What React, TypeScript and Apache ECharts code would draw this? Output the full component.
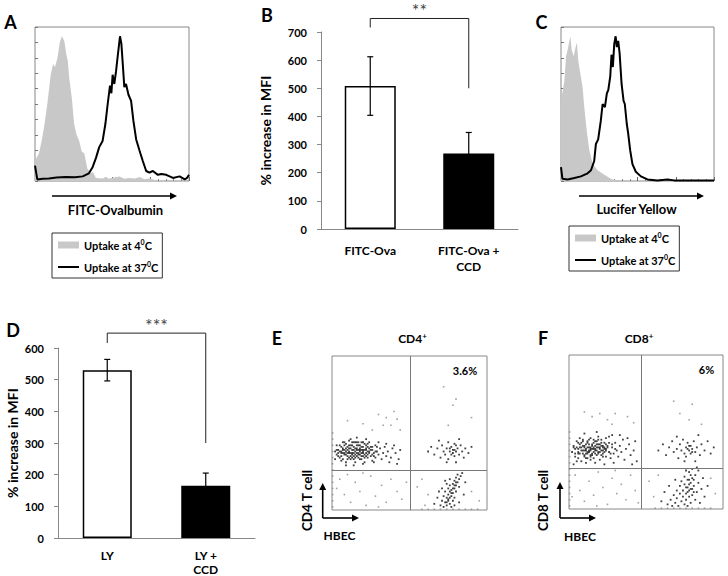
import React, { useEffect, useRef } from "react";
import * as echarts from "echarts";

const FONT = 'Lato, "Liberation Sans", Arial, sans-serif';
const COLD = "Uptake at 4⁰C";
const HOT = "Uptake at 37⁰C";

// Panel A histograms (channel 0-100, % of max)
const aCold = [[0,13],[1.5,16],[2.6,18],[4.3,26],[5.9,35],[8,50],[10.2,69],[11.7,76],[13,74],[14.6,80],[16.1,90],[17.4,94],[19,91],[20.4,82],[21.3,78],[22.2,67],[23.9,54],[25.4,37],[27,30],[28.7,26],[30.4,19],[32,18],[33,13],[34,8],[36.3,5],[37.5,6],[39.6,2],[44,1.7],[46,2.8],[48,1.5],[51,2.2],[55,3],[58,1.4],[61,2],[65,1.6],[68,2.6],[71,1.2],[74,1.7],[77,1],[79,0],[100,0]];
const aHot = [[0,10],[1.5,1],[5,1.4],[9,1.7],[14,2.2],[20,2.6],[26,2.4],[31,3],[33,4],[35,5],[37.4,9],[39.6,15],[41.7,22],[43.9,26],[45.7,37],[47.2,50],[48.7,62],[49.6,57],[50.4,69],[51.5,63],[52.6,71],[53.7,81],[55.2,94],[56.1,89],[57,76],[58,61],[59.1,63],[60.7,56],[62.4,52],[63.9,39],[65.7,27],[67.8,20],[70,13],[72.2,6.5],[74.3,5.4],[76.5,6.5],[79.8,4],[82,4.5],[85.2,4],[89.6,2],[93.9,3],[97.2,1],[98.7,2],[100,4]];

// Panel C histograms
const cCold = [[0,52],[2.2,65],[3.3,81],[4.3,85],[6.1,94],[7,85],[8.3,81],[9.1,85],[10.4,90],[11.3,78],[12.6,70],[14.1,61],[15.2,48],[17,31],[18.5,20],[20.7,11],[23.9,7],[28.3,4],[32.6,1.5],[35.9,0.4],[37,0],[100,0]];
const cHot = [[0,9],[0.9,1.5],[4.3,1],[8.7,2],[13,3],[17.4,5],[19.6,7],[21.7,13],[22.8,24],[24.3,27],[26,39],[27.2,50],[28.7,48],[30,57],[30.9,59],[32.2,68],[33,82],[33.9,74],[34.8,89],[35.7,94],[36.5,87],[37.4,91],[38.3,83],[39.6,63],[40.9,52],[41.7,50],[43,37],[43.9,31],[45.2,20],[46.7,11],[48.9,6],[52.2,3],[56.5,1],[63,0.4],[69.6,1],[73.9,0.4],[100,0.4]];

// Panel B bars
const bCats = ["FITC-Ova", "FITC-Ova +\nCCD"];
const bValues = [508, 268];
const bErrors = [104, 75];
const bFills = ["#ffffff", "#000000"];
const bBracket = [0, 748, 1, 716, 500];

// Panel D bars
const dCats = ["LY", "LY +\nCCD"];
const dValues = [530, 165];
const dErrors = [34, 40];
const dFills = ["#ffffff", "#000000"];
const dBracket = [0, 647, 1, 616, 300];

// Panel E dot plot (HBEC vs CD4, 0-100 units)
const eGate = [50.2, 25.5];
const eTcells = [[3,36],[4,39],[5,34],[5,42],[6,37],[7,40],[7,33],[8,36],[8,44],[9,38],[9,31],[10,41],[10,35],[11,38],[11,45],[12,33],[12,40],[13,37],[13,42],[14,35],[14,39],[15,31],[15,44],[16,37],[16,40],[17,34],[17,42],[18,38],[18,36],[19,41],[19,33],[20,39],[20,44],[21,36],[21,31],[22,40],[22,37],[23,34],[23,43],[24,38],[25,35],[25,41],[26,32],[26,39],[27,37],[28,42],[28,34],[29,38],[30,36],[31,40],[32,33],[33,37],[34,41],[35,35],[36,38],[38,34],[39,40],[41,37],[43,33],[44,39],[6,38],[9,40],[12,37],[14,41],[15,38],[16,35],[17,39],[18,40],[19,37],[20,35],[21,39],[22,42],[13,39],[10,37],[11,42],[15,36],[17,37],[19,39],[8,39],[7,37],[4,37],[2,38],[2,33],[3,42],[24,40],[26,36],[23,38],[20,37],[18,33],[14,44],[12,46],[16,47],[22,46],[9,29],[14,29],[20,30],[27,31],[30,44],[35,43],[40,42],[42,30],[37,31],[5,38],[6,41],[6,35],[7,39],[8,37],[8,42],[9,36],[9,43],[10,39],[10,33],[11,37],[11,40],[12,35],[12,42],[13,36],[13,44],[14,37],[14,33],[15,40],[15,34],[16,39],[16,42],[17,36],[17,44],[18,39],[18,42],[19,35],[19,44],[20,41],[20,38],[21,34],[21,43],[22,39],[22,35],[23,41],[23,36],[24,37],[25,39],[26,41],[27,35],[11,34],[13,34],[16,44],[24,44],[7,44],[4,35],[3,39],[6,32],[28,38],[29,41]];
const eDoublets = [[62,38],[64,41],[66,36],[68,40],[70,34],[71,42],[72,38],[73,36],[74,40],[75,44],[75,33],[76,38],[77,41],[77,36],[78,39],[79,43],[79,35],[80,38],[81,40],[82,36],[83,42],[84,38],[85,34],[86,40],[88,37],[90,41],[74,31],[80,31],[69,45],[82,46],[76,40],[78,37],[80,42],[79,39]];
const eHbec = [[70,3],[71,6],[72,2],[72,9],[73,5],[73,12],[74,8],[74,3],[75,10],[75,14],[75,6],[76,12],[76,4],[76,16],[77,9],[77,13],[77,2],[78,11],[78,17],[78,6],[79,14],[79,19],[79,8],[80,16],[80,21],[80,12],[81,18],[81,23],[82,15],[82,20],[83,22],[84,24],[74,17],[71,14],[68,8],[66,4],[86,18],[85,10],[82,5],[79,3],[76,20],[73,19],[69,12],[76,8],[77,11],[78,14],[79,16],[80,18],[75,7],[74,5]];
const eSparse = [[30,62],[35,60],[40,64],[42,59],[33,55],[26,52],[38,55],[10,58],[20,56],[44,52],[78,68],[80,72],[75,55],[90,60],[72,80],[5,20],[8,10],[12,5],[15,18],[18,12],[22,3],[25,22],[28,9],[32,16],[35,5],[38,20],[42,12],[45,7],[3,14],[20,24],[30,2],[48,18],[10,23],[55,15],[58,20],[62,10],[90,12],[95,6],[60,3],[58,0.5],[62,0.5],[66,0.5],[70,0.5],[74,0.5],[78,0.5],[82,0.5],[86,0.5],[90,0.5],[94,0.5],[0.4,2],[0.4,6],[0.4,10],[0.4,14],[0.4,18],[0.4,22],[0.4,26],[0.4,30],[0.4,34],[0.4,38],[0.4,42],[0.4,46],[0.4,50]];

// Panel F dot plot (HBEC vs CD8)
const fGate = [47.2, 26.5];
const fTcells = [[2,37],[3,41],[4,34],[5,44],[6,39],[7,36],[7,42],[8,31],[9,38],[9,45],[10,35],[10,41],[11,39],[12,33],[12,43],[13,37],[13,40],[14,35],[14,46],[15,39],[15,42],[16,37],[16,33],[17,41],[17,38],[18,44],[18,35],[19,40],[19,37],[20,42],[20,32],[21,38],[21,45],[22,36],[22,40],[23,43],[24,34],[24,39],[25,41],[26,37],[26,47],[27,33],[28,40],[29,36],[30,43],[31,38],[32,34],[33,41],[34,37],[35,45],[36,32],[37,39],[39,42],[40,35],[42,38],[43,44],[44,31],[8,40],[10,38],[11,36],[12,40],[13,42],[14,38],[15,36],[16,40],[17,39],[18,38],[19,42],[20,39],[21,41],[22,38],[23,39],[24,42],[14,40],[16,43],[12,37],[9,41],[6,36],[4,39],[5,31],[3,29],[11,30],[17,30],[23,29],[29,30],[28,48],[18,50],[10,49],[33,48],[38,46],[41,29],[5,40],[6,43],[6,37],[7,40],[8,38],[8,43],[9,36],[9,44],[10,40],[10,34],[11,38],[11,42],[12,36],[12,44],[13,38],[13,45],[14,39],[14,34],[15,41],[15,35],[16,39],[16,45],[17,36],[17,44],[18,40],[18,42],[19,36],[19,45],[20,40],[20,37],[21,35],[21,43],[22,41],[22,34],[23,40],[23,37],[24,38],[25,40],[26,43],[27,36],[11,33],[14,32],[19,47],[24,46],[7,46],[4,36],[3,40],[6,33],[28,42],[30,39]];
const fDoublets = [[58,38],[61,42],[63,35],[65,40],[67,44],[68,37],[70,39],[71,33],[72,42],[73,38],[74,45],[75,36],[76,40],[76,34],[77,43],[78,38],[78,41],[79,36],[80,39],[81,44],[82,37],[83,40],[85,35],[86,42],[88,38],[90,44],[92,36],[94,40],[75,31],[82,31],[70,47],[84,48],[77,39],[79,41],[80,37]];
const fHbec = [[64,3],[66,6],[67,2],[68,9],[69,4],[70,12],[70,7],[71,2],[72,10],[72,15],[73,5],[73,18],[74,8],[74,12],[75,3],[75,16],[75,21],[76,10],[76,6],[77,14],[77,19],[77,2],[78,12],[78,24],[78,8],[79,17],[79,4],[79,22],[80,13],[80,26],[80,9],[81,19],[81,15],[82,6],[82,22],[83,11],[83,27],[84,17],[85,4],[86,13],[87,20],[88,8],[90,15],[62,11],[60,5],[65,15],[69,19],[76,25],[84,25],[77,11],[78,16],[79,13],[80,20],[81,11],[76,14],[78,19]];
const fSparse = [[10,63],[15,60],[20,62],[25,58],[30,62],[38,60],[42,56],[28,55],[72,62],[78,58],[80,68],[86,55],[68,70],[4,22],[7,12],[10,5],[13,18],[16,9],[19,24],[22,14],[25,3],[28,20],[31,10],[34,16],[37,6],[40,22],[43,12],[2,8],[18,2],[30,25],[45,4],[52,18],[55,8],[58,22],[92,20],[95,10],[56,0.5],[60,0.5],[64,0.5],[68,0.5],[72,0.5],[76,0.5],[80,0.5],[84,0.5],[88,0.5],[92,0.5],[0.4,2],[0.4,6],[0.4,10],[0.4,14],[0.4,18],[0.4,22],[0.4,26],[0.4,30],[0.4,34],[0.4,38],[0.4,42],[0.4,46],[0.4,50]];

function histAxes(gi: number) {
  return {
    x: {
      gridIndex: gi, type: "value", min: 0, max: 100, interval: 25,
      axisLine: { show: false }, axisLabel: { show: false }, splitLine: { show: false },
      axisTick: { show: true, inside: true, length: 4, lineStyle: { color: "#666" } },
      minorTick: { show: true, splitNumber: 5, length: 2, lineStyle: { color: "#888" } },
    },
    y: {
      gridIndex: gi, type: "value", min: 0, max: 100, interval: 10,
      axisLine: { show: false }, axisLabel: { show: false }, splitLine: { show: false },
      axisTick: { show: true, inside: true, length: 3, lineStyle: { color: "#777" } },
    },
  };
}

function barAxes(gi: number, cats: string[], max: number, nameGap: number, lineHeight: number, labelMargin: number) {
  return {
    x: {
      gridIndex: gi, type: "category", data: cats,
      axisLine: { lineStyle: { color: "#888", width: 1 } }, axisTick: { show: false },
      axisLabel: { fontFamily: FONT, fontWeight: "bold", fontSize: 12, color: "#000", margin: labelMargin, lineHeight },
    },
    y: {
      gridIndex: gi, type: "value", min: 0, max, interval: 100,
      axisLine: { show: true, lineStyle: { color: "#888", width: 1 } },
      axisTick: { show: true, length: 4, lineStyle: { color: "#888" } },
      splitLine: { show: false },
      axisLabel: { fontFamily: FONT, fontWeight: "bold", fontSize: 11, color: "#000", margin: 14 },
      name: "% increase in MFI", nameLocation: "middle", nameGap,
      nameTextStyle: { fontFamily: FONT, fontWeight: "bold", fontSize: 14, color: "#000" },
    },
  };
}

function barSeries(ai: number, values: number[], fills: string[], width: number) {
  return {
    type: "bar", xAxisIndex: ai, yAxisIndex: ai, barWidth: width, silent: true,
    data: values.map((v, i) => ({
      value: v,
      itemStyle: { color: fills[i], borderColor: "#000", borderWidth: 1.5 },
    })),
  };
}

function errorSeries(ai: number, values: number[], errs: number[]) {
  return {
    type: "custom", xAxisIndex: ai, yAxisIndex: ai, silent: true, z: 5,
    encode: { x: 0, y: [1, 2] },
    data: values.map((v, i) => [i, v - errs[i], v + errs[i]]),
    renderItem: (params: any, api: any) => {
      const lo = api.coord([api.value(0), api.value(1)]);
      const hi = api.coord([api.value(0), api.value(2)]);
      const c = 3;
      const st = { stroke: "#000", lineWidth: 1.2 };
      return {
        type: "group",
        children: [
          { type: "line", shape: { x1: lo[0], y1: lo[1], x2: hi[0], y2: hi[1] }, style: st },
          { type: "line", shape: { x1: hi[0] - c, y1: hi[1], x2: hi[0] + c, y2: hi[1] }, style: st },
          { type: "line", shape: { x1: lo[0] - c, y1: lo[1], x2: lo[0] + c, y2: lo[1] }, style: st },
        ],
      };
    },
  };
}

function bracketSeries(ai: number, b: number[], label: string) {
  return {
    type: "custom", xAxisIndex: ai, yAxisIndex: ai, silent: true, clip: false, z: 6,
    encode: { x: [0, 2], y: [1, 3, 4] },
    data: [b],
    renderItem: (params: any, api: any) => {
      const l = api.coord([api.value(0), api.value(1)]);
      const r = api.coord([api.value(2), api.value(1)]);
      const lb = api.coord([api.value(0), api.value(3)]);
      const rb = api.coord([api.value(2), api.value(4)]);
      return {
        type: "group",
        children: [
          {
            type: "polyline",
            shape: { points: [[lb[0], lb[1]], [l[0], l[1]], [r[0], r[1]], [rb[0], rb[1]]] },
            style: { stroke: "#222", lineWidth: 1, fill: "none" },
          },
          {
            type: "text", x: (l[0] + r[0]) / 2, y: l[1] + 1,
            style: { text: label, align: "center", verticalAlign: "bottom", fontSize: 18, fill: "#444", fontFamily: FONT },
          },
        ],
      };
    },
  };
}

function histSeries(ai: number, cold: number[][], hot: number[][]) {
  return [
    {
      type: "line", name: COLD, xAxisIndex: ai, yAxisIndex: ai, data: cold, symbol: "none", silent: true,
      color: "#c8c8c8", itemStyle: { color: "#c8c8c8" },
      lineStyle: { width: 0, color: "#c8c8c8" }, areaStyle: { color: "#c8c8c8", opacity: 1 },
    },
    {
      type: "line", name: HOT, xAxisIndex: ai, yAxisIndex: ai, data: hot, symbol: "none", silent: true,
      color: "#000", itemStyle: { color: "#000" }, lineStyle: { width: 2, color: "#000" },
    },
  ];
}

function dotSeries(ai: number, data: number[][], color: string, size: number, gate?: number[]) {
  const s: any = {
    type: "scatter", xAxisIndex: ai, yAxisIndex: ai, data, symbol: "rect", symbolSize: size, silent: true,
    itemStyle: { color },
  };
  if (gate) {
    s.markLine = {
      silent: true, symbol: "none", label: { show: false }, animation: false,
      lineStyle: { color: "#777", width: 1, type: "solid" },
      data: [{ xAxis: gate[0] }, { yAxis: gate[1] }],
    };
  }
  return s;
}

function dotAxes(gi: number) {
  return {
    x: { gridIndex: gi, type: "value", min: 0, max: 100, show: false },
    y: { gridIndex: gi, type: "value", min: 0, max: 100, show: false },
  };
}

function legendFor(left: number, top: number) {
  return {
    left, top, orient: "vertical",
    data: [{ name: COLD, icon: "rect" }, { name: HOT, icon: "path://M0,0H21V2H0Z" }],
    itemWidth: 21, itemHeight: 7, itemGap: 8,
    padding: [5, 4, 4, 6],
    borderColor: "#333", borderWidth: 1,
    selectedMode: false,
    formatter: (name: string) => name.replace("⁰", "{sup|0}"),
    textStyle: {
      fontFamily: FONT, fontWeight: "bold", fontSize: 11, color: "#000", lineHeight: 14,
      rich: { sup: { fontFamily: FONT, fontWeight: "bold", fontSize: 7, color: "#000", verticalAlign: "top", lineHeight: 14 } },
    },
  };
}

function txt(x: number, y: number, text: string, size: number, extra: any = {}) {
  return {
    type: "text", x, y, rotation: extra.rotation || 0,
    style: {
      text, fill: "#000", fontFamily: FONT, fontWeight: extra.weight || "bold", fontSize: size,
      align: extra.align || "center", verticalAlign: "middle",
      rich: { sup: { fontFamily: FONT, fontWeight: "bold", fontSize: 8, fill: "#000", verticalAlign: "top" } },
    },
  };
}

function arrowH(x1: number, x2: number, y: number) {
  return [
    { type: "line", shape: { x1, y1: y, x2: x2 - 6, y2: y }, style: { stroke: "#000", lineWidth: 1.6 } },
    { type: "polygon", shape: { points: [[x2 - 7, y - 3.5], [x2, y], [x2 - 7, y + 3.5]] }, style: { fill: "#000" } },
  ];
}
function arrowV(x: number, y1: number, y2: number) {
  return [
    { type: "line", shape: { x1: x, y1, x2: x, y2: y2 + 6 }, style: { stroke: "#000", lineWidth: 1.6 } },
    { type: "polygon", shape: { points: [[x - 3.5, y2 + 7], [x, y2], [x + 3.5, y2 + 7]] }, style: { fill: "#000" } },
  ];
}

export default function App() {
  const ref = useRef<HTMLDivElement>(null);
  useEffect(() => {
    if (!ref.current) return;
    const chart = echarts.init(ref.current, null, { renderer: "svg" });
    const hA = histAxes(0), bB = barAxes(1, bCats, 700, 49, 16, 13), hC = histAxes(2);
    const bD = barAxes(3, dCats, 600, 39, 14, 10), dE = dotAxes(4), dF = dotAxes(5);
    const option: any = {
      animation: false,
      backgroundColor: "#fff",
      textStyle: { fontFamily: FONT },
      grid: [
        { left: 35, top: 27, width: 154, height: 154, show: true, borderColor: "#888", borderWidth: 1 },
        { left: 321, top: 32, width: 197, height: 197 },
        { left: 561, top: 27, width: 153, height: 154, show: true, borderColor: "#888", borderWidth: 1 },
        { left: 58, top: 348, width: 197, height: 190 },
        { left: 332, top: 356, width: 155, height: 154, show: true, borderColor: "#888", borderWidth: 1 },
        { left: 569, top: 355, width: 154, height: 154, show: true, borderColor: "#888", borderWidth: 1 },
      ],
      xAxis: [hA.x, bB.x, hC.x, bD.x, dE.x, dF.x],
      yAxis: [hA.y, bB.y, hC.y, bD.y, dE.y, dF.y],
      legend: [legendFor(52, 233), legendFor(569, 226)],
      series: [
        ...histSeries(0, aCold, aHot),
        barSeries(1, bValues, bFills, 51),
        errorSeries(1, bValues, bErrors),
        bracketSeries(1, bBracket, "**"),
        ...histSeries(2, cCold, cHot),
        barSeries(3, dValues, dFills, 49),
        errorSeries(3, dValues, dErrors),
        bracketSeries(3, dBracket, "***"),
        dotSeries(4, eSparse, "#8a8a8a", 1.6, eGate),
        dotSeries(4, [...eTcells, ...eDoublets, ...eHbec], "#111", 1.8),
        dotSeries(5, fSparse, "#8a8a8a", 1.6, fGate),
        dotSeries(5, [...fTcells, ...fDoublets, ...fHbec], "#111", 1.8),
      ],
      graphic: [
        txt(10.5, 21.5, "A", 18),
        txt(267, 15, "B", 18),
        txt(541.5, 21.5, "C", 18),
        txt(13, 330, "D", 18),
        txt(277, 337.5, "E", 18),
        txt(543, 337.5, "F", 18),
        ...arrowH(52, 177, 196),
        txt(115.5, 210, "FITC-Ovalbumin", 13),
        ...arrowH(579, 704, 196),
        txt(636.5, 209, "Lucifer Yellow", 13),
        txt(412.5, 338, "CD4{sup|+}", 12),
        txt(639, 338, "CD8{sup|+}", 12),
        txt(465, 370.5, "3.6%", 11),
        txt(706.5, 369.5, "6%", 11),
        ...arrowV(322.7, 518, 483),
        ...arrowH(322.7, 359, 518),
        ...arrowV(560, 518, 482),
        ...arrowH(560, 596, 518),
        txt(307, 500.5, "CD4 T cell", 13.5, { rotation: Math.PI / 2 }),
        txt(543, 500.5, "CD8 T cell", 13.5, { rotation: Math.PI / 2 }),
        txt(339.5, 535, "HBEC", 12),
        txt(580, 536, "HBEC", 12),
      ],
    };
    chart.setOption(option);
    return () => chart.dispose();
  }, []);
  return (
    <div
      ref={ref}
      style={{ position: "fixed", left: 0, top: 0, width: 728, height: 576, background: "#fff" }}
    />
  );
}
